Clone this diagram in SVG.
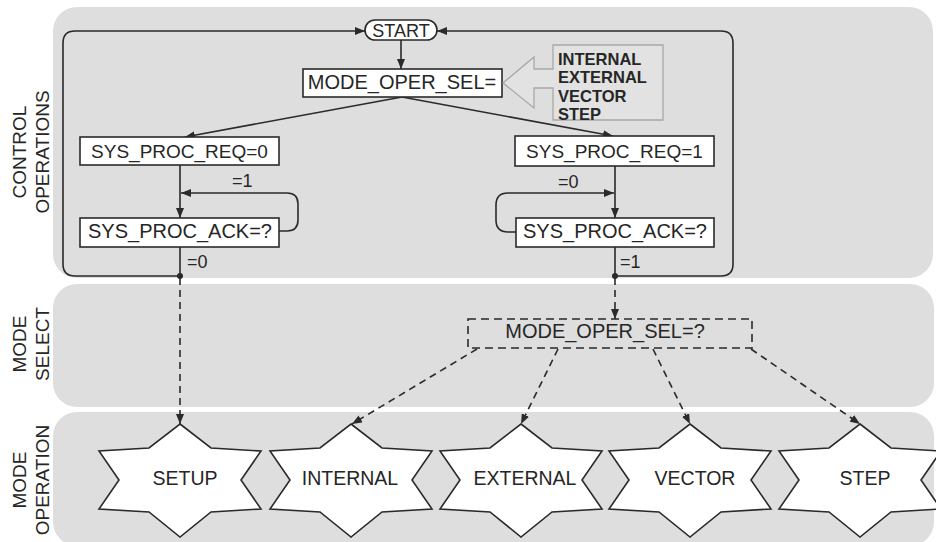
<svg xmlns="http://www.w3.org/2000/svg" width="936" height="542" viewBox="0 0 936 542">
  <style>
    text { font-family: "Liberation Sans", Arial, sans-serif; fill: #262626; }
    .lane { fill: #dedede; }
    .lane-label { font-size: 19px; text-anchor: middle; }
    .box { fill: #ffffff; stroke: #2a2a2a; stroke-width: 1.6; }
    .dbox { fill: none; stroke: #2a2a2a; stroke-width: 1.6; stroke-dasharray: 8 5; }
    .t20 { font-size: 20px; text-anchor: middle; }
    .t19 { font-size: 19px; text-anchor: middle; }
    .star-text { font-size: 19.5px; text-anchor: middle; }
    .cond { font-size: 18px; }
    .wire { fill: none; stroke: #2a2a2a; stroke-width: 1.6; }
    .dash { fill: none; stroke: #2a2a2a; stroke-width: 1.6; stroke-dasharray: 7 5; }
    .hint { fill: #e2e2e2; stroke: #a8a8a8; stroke-width: 1.3; }
    .hint-text { font-size: 16.5px; font-weight: bold; }
  </style>
  <defs>
    <marker id="arrow" viewBox="0 0 10 8" refX="10" refY="4" markerWidth="10" markerHeight="8" markerUnits="userSpaceOnUse" orient="auto">
      <path d="M0,0 L10,4 L0,8 z" fill="#2a2a2a"/>
    </marker>
    <path id="star" d="M0,-56 L31,-32 L81,-29 L61,0 L81,29 L31,32 L0,57 L-31,32 L-81,29 L-61,0 L-81,-29 L-31,-32 Z" fill="#ffffff" stroke="#2a2a2a" stroke-width="1.6" stroke-linejoin="miter"/>
  </defs>

  <rect width="936" height="542" fill="#ffffff"/>

  <!-- swimlanes -->
  <g id="lanes">
    <rect class="lane" x="53" y="7" width="880" height="271" rx="24"/>
    <rect class="lane" x="53" y="284" width="881" height="123" rx="24"/>
    <rect class="lane" x="53" y="412" width="881" height="134" rx="24"/>
    <text class="lane-label" transform="translate(26,152) rotate(-90)">CONTROL</text>
    <text class="lane-label" transform="translate(49,152) rotate(-90)">OPERATIONS</text>
    <text class="lane-label" transform="translate(26,344) rotate(-90)">MODE</text>
    <text class="lane-label" transform="translate(49,344) rotate(-90)">SELECT</text>
    <text class="lane-label" transform="translate(26,480) rotate(-90)">MODE</text>
    <text class="lane-label" transform="translate(49,480) rotate(-90)">OPERATION</text>
  </g>

  <!-- connectors -->
  <g id="connectors">
    <path class="wire" d="M401,40 V69" marker-end="url(#arrow)"/>
    <path class="wire" d="M402,97 L185,137" marker-end="url(#arrow)"/>
    <path class="wire" d="M402,97 L613,136" marker-end="url(#arrow)"/>
    <path class="wire" d="M180,165 V218" marker-end="url(#arrow)"/>
    <path class="wire" d="M279,231 H287 Q298,231 298,220 V204 Q298,193 287,193 H181" marker-end="url(#arrow)"/>
    <path class="wire" d="M180,247 V276"/>
    <path class="wire" d="M180,276 H75 Q63,276 63,264 V43 Q63,31 75,31 H365" marker-end="url(#arrow)"/>
    <path class="wire" d="M615,166 V218" marker-end="url(#arrow)"/>
    <path class="wire" d="M516,232 H508 Q496,232 496,220 V205 Q496,193 508,193 H614" marker-end="url(#arrow)"/>
    <path class="wire" d="M615,247 V276"/>
    <path class="wire" d="M615,276 H721 Q733,276 733,264 V43 Q733,31 721,31 H437" marker-end="url(#arrow)"/>
    <circle cx="180" cy="276" r="3" fill="#2a2a2a"/>
    <circle cx="615" cy="276" r="3" fill="#2a2a2a"/>
    <text class="cond" x="232" y="187">=1</text>
    <text class="cond" x="187" y="268">=0</text>
    <text class="cond" x="558" y="188">=0</text>
    <text class="cond" x="620" y="268">=1</text>

    <path class="dash" d="M180,278 V424" marker-end="url(#arrow)"/>
    <path class="dash" d="M615,278 V319" marker-end="url(#arrow)"/>
    <path class="dash" d="M477,349 L352,424" marker-end="url(#arrow)"/>
    <path class="dash" d="M558,349 L521,424" marker-end="url(#arrow)"/>
    <path class="dash" d="M653,349 L690,424" marker-end="url(#arrow)"/>
    <path class="dash" d="M751,349 L860,424" marker-end="url(#arrow)"/>
  </g>

  <g id="start">
    <rect class="box" x="365" y="20" width="72" height="20" rx="10"/>
    <text x="401" y="37" style="font-size:18px;text-anchor:middle">START</text>
  </g>

  <g id="mode-oper-sel">
    <rect class="box" x="303" y="69" width="199" height="28"/>
    <text class="t20" x="402" y="89">MODE_OPER_SEL=</text>
  </g>

  <g id="mode-values">
    <path class="hint" d="M503,83 L534,57 L534,69 L553,69 L553,45 L663,45 L663,120 L553,120 L553,88 L534,88 L534,108 Z"/>
    <text class="hint-text" x="558" y="65">INTERNAL</text>
    <text class="hint-text" x="558" y="83">EXTERNAL</text>
    <text class="hint-text" x="558" y="101.5">VECTOR</text>
    <text class="hint-text" x="558" y="120">STEP</text>
  </g>

  <g id="req0">
    <rect class="box" x="80" y="137" width="199" height="28"/>
    <text class="t19" x="179.5" y="158">SYS_PROC_REQ=0</text>
  </g>
  <g id="ack-left">
    <rect class="box" x="80" y="218" width="199" height="29"/>
    <text class="t20" x="180" y="238">SYS_PROC_ACK=?</text>
  </g>
  <g id="req1">
    <rect class="box" x="515" y="136" width="199" height="30"/>
    <text class="t19" x="614.5" y="158">SYS_PROC_REQ=1</text>
  </g>
  <g id="ack-right">
    <rect class="box" x="516" y="218" width="198" height="29"/>
    <text class="t20" x="615" y="238">SYS_PROC_ACK=?</text>
  </g>

  <g id="mode-select">
    <rect class="dbox" x="468" y="319" width="284" height="29"/>
    <text class="t20" x="605" y="338">MODE_OPER_SEL=?</text>
  </g>

  <g id="setup">
    <use href="#star" x="180" y="480"/>
    <text class="star-text" x="185" y="485">SETUP</text>
  </g>
  <g id="internal">
    <use href="#star" x="351" y="480"/>
    <text class="star-text" x="350" y="485">INTERNAL</text>
  </g>
  <g id="external">
    <use href="#star" x="521" y="480"/>
    <text class="star-text" x="525" y="485">EXTERNAL</text>
  </g>
  <g id="vector">
    <use href="#star" x="690" y="480"/>
    <text class="star-text" x="695" y="485">VECTOR</text>
  </g>
  <g id="step">
    <use href="#star" x="860" y="480"/>
    <text class="star-text" x="865" y="485">STEP</text>
  </g>
</svg>
